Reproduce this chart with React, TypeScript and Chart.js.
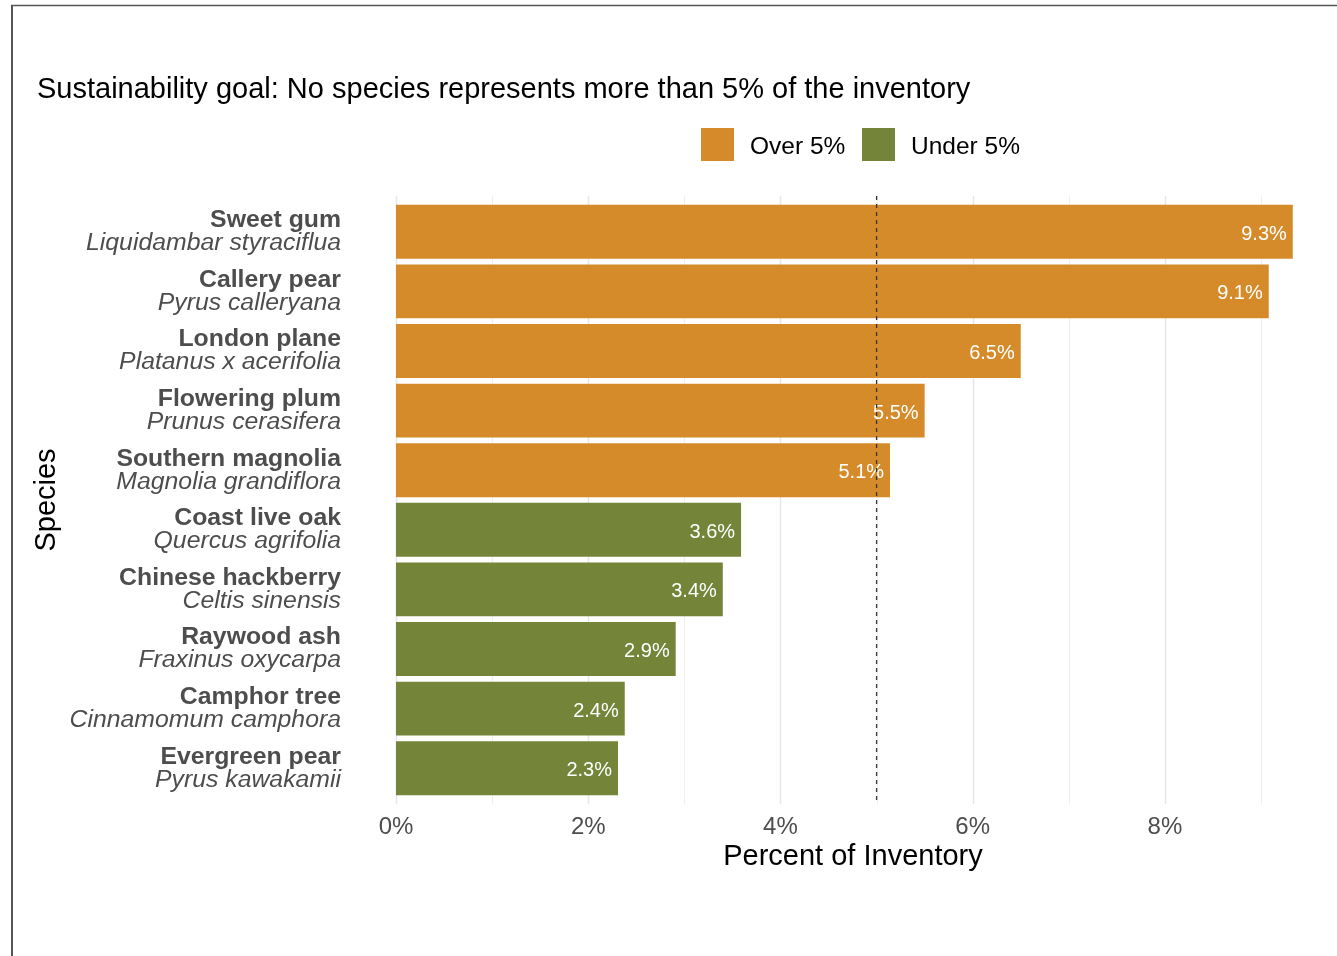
import React, { useEffect, useRef } from "react";
import { Chart, registerables } from "chart.js";

Chart.register(...registerables);

const commonNames = [
  "Sweet gum",
  "Callery pear",
  "London plane",
  "Flowering plum",
  "Southern magnolia",
  "Coast live oak",
  "Chinese hackberry",
  "Raywood ash",
  "Camphor tree",
  "Evergreen pear",
];
const scientificNames = [
  "Liquidambar styraciflua",
  "Pyrus calleryana",
  "Platanus x acerifolia",
  "Prunus cerasifera",
  "Magnolia grandiflora",
  "Quercus agrifolia",
  "Celtis sinensis",
  "Fraxinus oxycarpa",
  "Cinnamomum camphora",
  "Pyrus kawakamii",
];
const percents = [9.33, 9.08, 6.5, 5.5, 5.14, 3.59, 3.4, 2.91, 2.38, 2.31];
const xTickValues = [0, 2, 4, 6, 8];
const gridValues = [0, 1, 2, 3, 4, 5, 6, 7, 8, 9];
const threshold = 5;
const legendLabels = ["Over 5%", "Under 5%"];

const ORANGE = "#D68B2B";
const GREEN = "#748539";
const FONT = '"Liberation Sans", Arial, Helvetica, sans-serif';

const overlayPlugin = {
  id: "overlay",
  beforeDraw(chart: any) {
    const ctx = chart.ctx;
    ctx.save();
    ctx.fillStyle = "#ffffff";
    ctx.fillRect(0, 0, chart.width, chart.height);
    ctx.strokeStyle = "#555555";
    ctx.lineWidth = 1.5;
    ctx.beginPath();
    ctx.moveTo(11, 5.5);
    ctx.lineTo(chart.width, 5.5);
    ctx.stroke();
    ctx.lineWidth = 2;
    ctx.beginPath();
    ctx.moveTo(12, 5);
    ctx.lineTo(12, chart.height);
    ctx.stroke();
    ctx.restore();
  },
  beforeDatasetsDraw(chart: any) {
    const ctx = chart.ctx;
    const x = chart.scales.x;
    const area = chart.chartArea;
    ctx.save();
    gridValues.forEach((v) => {
      const px = Math.round(x.getPixelForValue(v)) + 0.5;
      const major = v % 2 === 0;
      ctx.strokeStyle = major ? "#e6e6e6" : "#efefef";
      ctx.lineWidth = major ? 1.5 : 1;
      ctx.beginPath();
      ctx.moveTo(px, area.top - 6);
      ctx.lineTo(px, area.bottom + 6);
      ctx.stroke();
    });
    ctx.restore();
  },
  afterDatasetsDraw(chart: any) {
    const ctx = chart.ctx;
    const x = chart.scales.x;
    const y = chart.scales.y;
    const area = chart.chartArea;
    ctx.save();
    // value labels
    ctx.font = `20px ${FONT}`;
    ctx.fillStyle = "#ffffff";
    ctx.textAlign = "right";
    ctx.textBaseline = "middle";
    percents.forEach((v, i) => {
      ctx.fillText(v.toFixed(1) + "%", x.getPixelForValue(v) - 6, y.getPixelForValue(i) + 2.5);
    });
    // dashed threshold line
    const tx = x.getPixelForValue(threshold);
    ctx.strokeStyle = "#333333";
    ctx.lineWidth = 1.3;
    ctx.setLineDash([4, 4]);
    ctx.beginPath();
    ctx.moveTo(tx, area.top - 6);
    ctx.lineTo(tx, area.bottom + 6);
    ctx.stroke();
    ctx.setLineDash([]);

    // y labels
    ctx.textAlign = "right";
    ctx.fillStyle = "#4d4d4d";
    commonNames.forEach((name, i) => {
      const cy = y.getPixelForValue(i);
      ctx.font = `bold 24.8px ${FONT}`;
      ctx.fillText(name, 341, cy - 11.5);
      ctx.font = `italic 24.8px ${FONT}`;
      ctx.fillText(scientificNames[i], 341, cy + 11.5);
    });

    // x tick labels
    ctx.textAlign = "center";
    ctx.font = `24px ${FONT}`;
    ctx.fillStyle = "#4d4d4d";
    xTickValues.forEach((v) => {
      ctx.fillText(v + "%", x.getPixelForValue(v), 827);
    });

    // axis titles
    ctx.fillStyle = "#000000";
    ctx.font = `29px ${FONT}`;
    ctx.fillText("Percent of Inventory", 853, 857);
    ctx.save();
    ctx.translate(47, 500);
    ctx.rotate(-Math.PI / 2);
    ctx.fillText("Species", 0, 0);
    ctx.restore();

    // title
    ctx.textAlign = "left";
    ctx.font = `29px ${FONT}`;
    ctx.fillText(
      "Sustainability goal: No species represents more than 5% of the inventory",
      37,
      90
    );

    // legend
    const legendX = [701, 862];
    const legendColors = [ORANGE, GREEN];
    ctx.font = `24.5px ${FONT}`;
    legendLabels.forEach((lab, i) => {
      ctx.fillStyle = legendColors[i];
      ctx.fillRect(legendX[i], 128, 33, 33);
      ctx.fillStyle = "#000000";
      ctx.fillText(lab, legendX[i] + 49, 147);
    });
    ctx.restore();
  },
};

export default function App() {
  const canvasRef = useRef<HTMLCanvasElement | null>(null);

  useEffect(() => {
    const canvas = canvasRef.current;
    if (!canvas) return;
    const chart = new Chart(canvas, {
      type: "bar",
      data: {
        labels: commonNames,
        datasets: [
          {
            data: percents,
            backgroundColor: percents.map((v) => (v > threshold ? ORANGE : GREEN)),
            borderWidth: 0,
            barPercentage: 0.905,
            categoryPercentage: 1,
          },
        ],
      },
      plugins: [overlayPlugin],
      options: {
        indexAxis: "y",
        responsive: false,
        animation: false,
        events: [],
        layout: {
          padding: { left: 351, right: 0, top: 202, bottom: 158 },
        },
        plugins: {
          legend: { display: false },
          title: { display: false },
          tooltip: { enabled: false },
        },
        scales: {
          x: {
            type: "linear",
            display: false,
            min: -0.468,
            max: 9.79,
          },
          y: {
            type: "category",
            display: false,
            offset: true,
          },
        },
      },
    });
    return () => chart.destroy();
  }, []);

  return (
    <div style={{ position: "absolute", left: 0, top: 0, width: 1337, height: 956 }}>
      <canvas ref={canvasRef} width={1337} height={956} style={{ width: 1337, height: 956 }} />
    </div>
  );
}
